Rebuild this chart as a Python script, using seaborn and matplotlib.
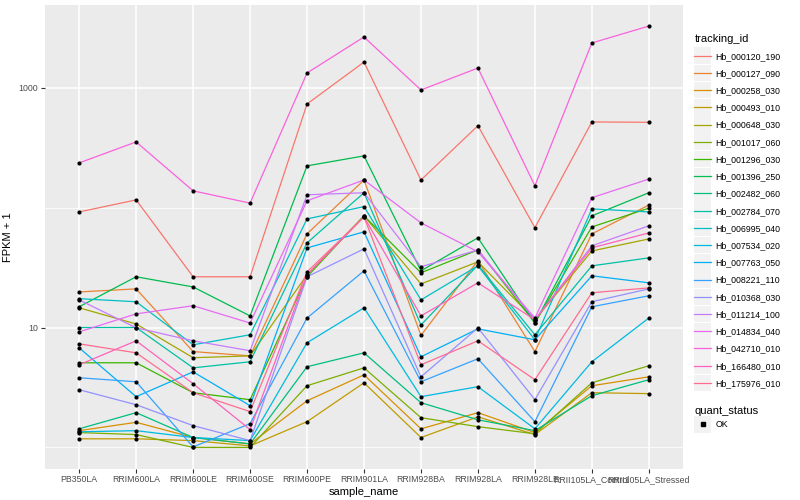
import numpy as np
import pandas as pd
import seaborn as sns
import matplotlib.pyplot as plt
from matplotlib.lines import Line2D
from matplotlib.patches import Rectangle
from matplotlib.ticker import NullFormatter
from matplotlib.legend_handler import HandlerLine2D

samples = ["PB350LA", "RRIM600LA", "RRIM600LE", "RRIM600SE", "RRIM600PE", "RRIM901LA",
           "RRIM928BA", "RRIM928LA", "RRIM928LE", "RRII105LA_Control", "RRII105LA_Stressed"]

# FPKM + 1 per gene, one value per sample
Hb_000120_190 = [92, 116, 26.5, 26.5, 731, 1637, 170, 482, 68, 518, 515]
Hb_000127_090 = [19.8, 21.0, 6.3, 5.8, 60.4, 170, 8.6, 36.1, 6.3, 60.4, 105]
Hb_000258_030 = [1.38, 1.62, 1.21, 1.07, 2.45, 4.03, 1.43, 1.95, 1.33, 3.27, 3.88]
Hb_000493_010 = [1.18, 1.18, 1.14, 1.03, 1.64, 3.46, 1.21, 1.80, 1.28, 2.86, 2.81]
Hb_000648_030 = [14.6, 10.7, 5.6, 5.8, 27.5, 85.3, 23.1, 35.3, 11.6, 43.5, 54.8]
Hb_001017_060 = [1.33, 1.28, 1.0, 1.0, 3.27, 4.61, 1.77, 1.49, 1.30, 3.46, 4.80]
Hb_001296_030 = [5.08, 5.08, 2.86, 2.50, 26.5, 85.3, 28.6, 44.4, 10.9, 69.0, 99.0]
Hb_001396_250 = [14.9, 26.5, 21.8, 12.5, 223, 270, 29.7, 56.0, 10.9, 85.3, 133]
Hb_002482_060 = [1.43, 1.95, 1.21, 1.07, 4.71, 6.15, 2.36, 1.70, 1.38, 2.70, 3.67]
Hb_002784_070 = [10.0, 10.0, 4.61, 5.18, 50.8, 133, 10.5, 33.2, 8.7, 32.7, 38.1]
Hb_006995_040 = [17.4, 16.4, 7.18, 8.7, 80.5, 102, 17.0, 32.7, 7.9, 97.6, 92.0]
Hb_007534_020 = [1.35, 1.38, 1.21, 1.14, 7.46, 14.6, 2.65, 3.21, 1.43, 5.18, 12.0]
Hb_007763_050 = [6.77, 2.65, 4.27, 2.23, 46.1, 62.8, 5.70, 9.75, 7.9, 27.0, 23.6]
Hb_008221_110 = [3.81, 3.53, 1.01, 1.58, 12.0, 29.7, 3.53, 5.49, 1.64, 14.9, 18.4]
Hb_010368_030 = [3.03, 2.27, 1.52, 1.14, 26.5, 45.3, 3.88, 9.95, 2.50, 16.4, 21.0]
Hb_011214_100 = [17.0, 9.95, 7.75, 6.4, 128, 133, 32.1, 44.4, 11.6, 48.0, 70.5]
Hb_014834_040 = [9.2, 13.0, 15.2, 10.9, 114, 170, 74.6, 42.8, 12.0, 121, 173]
Hb_042710_010 = [236, 353, 138, 109, 1327, 2649, 957, 1459, 152, 2361, 3266]
Hb_166480_010 = [4.89, 7.75, 3.40, 1.41, 27.5, 83.7, 12.5, 23.6, 11.6, 46.2, 61.5]
Hb_175976_010 = [7.31, 6.15, 2.86, 1.99, 29.1, 83.7, 4.89, 7.75, 3.67, 19.5, 21.4]

genes = {
    "Hb_000120_190": Hb_000120_190, "Hb_000127_090": Hb_000127_090,
    "Hb_000258_030": Hb_000258_030, "Hb_000493_010": Hb_000493_010,
    "Hb_000648_030": Hb_000648_030, "Hb_001017_060": Hb_001017_060,
    "Hb_001296_030": Hb_001296_030, "Hb_001396_250": Hb_001396_250,
    "Hb_002482_060": Hb_002482_060, "Hb_002784_070": Hb_002784_070,
    "Hb_006995_040": Hb_006995_040, "Hb_007534_020": Hb_007534_020,
    "Hb_007763_050": Hb_007763_050, "Hb_008221_110": Hb_008221_110,
    "Hb_010368_030": Hb_010368_030, "Hb_011214_100": Hb_011214_100,
    "Hb_014834_040": Hb_014834_040, "Hb_042710_010": Hb_042710_010,
    "Hb_166480_010": Hb_166480_010, "Hb_175976_010": Hb_175976_010,
}

# ggplot2 default hue palette, 20 levels
hue_colors = ["#F8766D", "#EA8331", "#D89000", "#C09B00", "#A3A500", "#7CAE00", "#39B600",
              "#00BB4E", "#00BF7D", "#00C1A3", "#00BFC4", "#00BAE0", "#00B0F6", "#35A2FF",
              "#9590FF", "#C77CFF", "#E76BF3", "#FA62DB", "#FF62BC", "#FF6C91"]

rows = []
for gid, vals in genes.items():
    for s, v in zip(samples, vals):
        rows.append([gid, s, v, "OK"])
df = pd.DataFrame(rows, columns=["tracking_id", "sample_name", "FPKM", "quant_status"])

plt.rcParams['font.family'] = ['Liberation Sans', 'DejaVu Sans']

fig = plt.figure(figsize=(8, 5), dpi=100)
ax = fig.add_axes([0.05625, 0.063, 0.7975, 0.927])
ax.set_facecolor("#EBEBEB")

palette = dict(zip(genes.keys(), hue_colors))
sns.lineplot(data=df, x="sample_name", y="FPKM", hue="tracking_id", palette=palette,
             sort=False, estimator=None, linewidth=0.9, legend=False, ax=ax)
sns.scatterplot(data=df, x="sample_name", y="FPKM", color="black", s=9, linewidth=0,
                legend=False, zorder=3, ax=ax)

ax.set_yscale("log")
lo, hi = np.log10(df["FPKM"].min()), np.log10(df["FPKM"].max())
pad = 0.05 * (hi - lo)
ax.set_ylim(10 ** (lo - pad), 10 ** (hi + pad))
ax.set_xlim(-0.6, len(samples) - 0.4)

ax.set_yticks([10, 1000])
ax.set_yticklabels(["10", "1000"])
ax.set_yticks([1, 100], minor=True)
ax.yaxis.set_minor_formatter(NullFormatter())
ax.set_xticks(range(len(samples)))
ax.set_xticklabels(samples)

ax.grid(True, which="major", color="white", linewidth=1.1)
ax.grid(True, which="minor", axis="y", color="white", linewidth=0.55)
ax.set_axisbelow(True)
for sp in ax.spines.values():
    sp.set_visible(False)
ax.tick_params(which="major", length=2.8, width=0.8, color="#333333",
               labelsize=6.3, labelcolor="#4D4D4D", pad=2)
ax.tick_params(which="minor", length=0)

ax.set_xlabel("sample_name", fontsize=8, labelpad=2)
ax.set_ylabel("FPKM + 1", fontsize=8, labelpad=4)


class KeyHandler(HandlerLine2D):
    def create_artists(self, legend, orig_handle, xdescent, ydescent, width, height, fontsize, trans):
        size = width
        bg = Rectangle((-xdescent, -ydescent + height / 2 - size / 2), size, size,
                       facecolor="#F2F2F2", edgecolor="none", transform=trans)
        arts = super().create_artists(legend, orig_handle, xdescent, ydescent, width, height, fontsize, trans)
        return [bg] + list(arts)


handles = [Line2D([], [], color=c, linewidth=0.9) for c in hue_colors]
leg1 = fig.legend(handles, list(genes.keys()), title="tracking_id", loc="upper left",
                  bbox_to_anchor=(0.868, 0.933), frameon=False, fontsize=6.3,
                  title_fontsize=8, handlelength=1.9, handletextpad=0.5, labelspacing=0.94,
                  borderpad=0, borderaxespad=0, alignment="left",
                  handler_map={Line2D: KeyHandler()})

ok_handle = Line2D([], [], color="black", marker="s", markersize=2.5, linestyle="none")
leg2 = fig.legend([ok_handle], ["OK"], title="quant_status", loc="upper left",
                  bbox_to_anchor=(0.868, 0.188), frameon=False, fontsize=6.3,
                  title_fontsize=8, handlelength=1.9, handletextpad=0.5,
                  borderpad=0, borderaxespad=0, alignment="left",
                  handler_map={Line2D: KeyHandler()})

fig.savefig("out.png", dpi=100)
